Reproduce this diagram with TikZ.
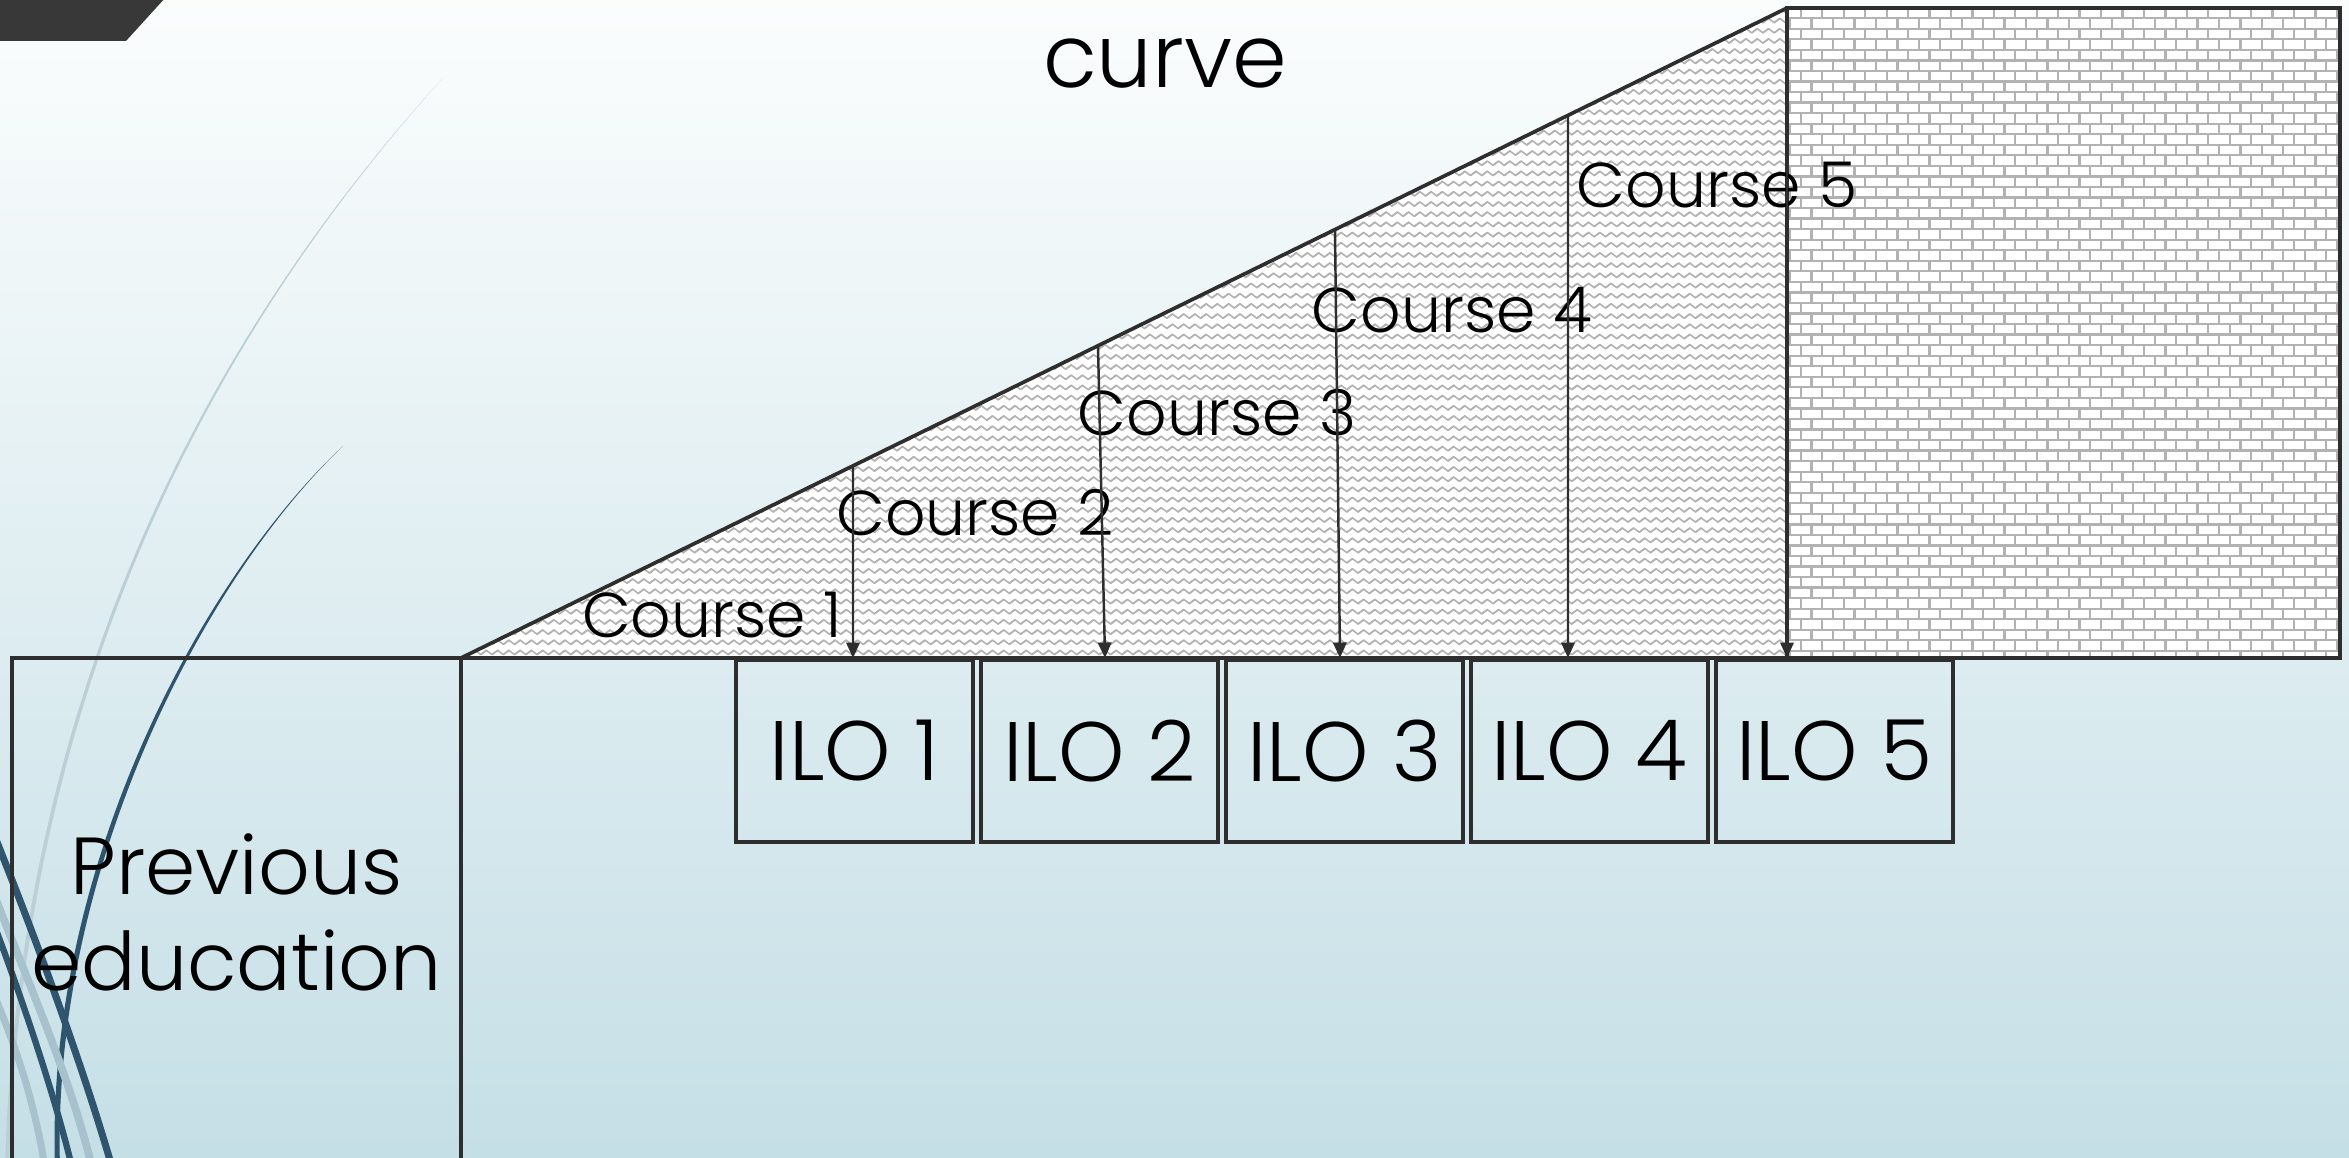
\documentclass[tikz,border=0pt]{standalone}
\usepackage{fontspec}
\setmainfont{Poppins}[UprightFont={* Light}]
\usetikzlibrary{arrows.meta,patterns,calc}

\definecolor{linegray}{HTML}{2E2E2E}
\definecolor{bgtop}{HTML}{FBFDFD}
\definecolor{bgbottom}{HTML}{C5DFE6}
\definecolor{wispdark}{HTML}{2E546E}
\definecolor{wisplight}{HTML}{BCCFD7}
\definecolor{wispmid}{HTML}{A7C2CD}
\definecolor{hatch}{HTML}{B2B2B2}

% wavy hatching of the course triangle
\pgfdeclarepatternformonly{waves}{\pgfqpoint{-1pt}{0pt}}{\pgfqpoint{4.4pt}{2.9pt}}{\pgfqpoint{3.2pt}{2.9pt}}{%
  \pgfsetlinewidth{0.45pt}\pgfsetroundjoin\pgfsetroundcap
  \pgfpathmoveto{\pgfqpoint{-0.8pt}{0.85pt}}
  \pgfpathlineto{\pgfqpoint{0.8pt}{2.05pt}}
  \pgfpathlineto{\pgfqpoint{2.4pt}{0.85pt}}
  \pgfpathlineto{\pgfqpoint{4pt}{2.05pt}}
  \pgfusepath{stroke}}

% brick wall
\pgfdeclarepatternformonly{brickwall}{\pgfqpoint{-0.5pt}{-0.5pt}}{\pgfqpoint{6.6pt}{6.5pt}}{\pgfqpoint{6.1pt}{6pt}}{%
  \pgfsetlinewidth{0.65pt}
  \pgfpathmoveto{\pgfqpoint{-0.5pt}{0pt}}\pgfpathlineto{\pgfqpoint{6.6pt}{0pt}}
  \pgfpathmoveto{\pgfqpoint{-0.5pt}{3pt}}\pgfpathlineto{\pgfqpoint{6.6pt}{3pt}}
  \pgfpathmoveto{\pgfqpoint{0pt}{0pt}}\pgfpathlineto{\pgfqpoint{0pt}{3pt}}
  \pgfpathmoveto{\pgfqpoint{3.05pt}{3pt}}\pgfpathlineto{\pgfqpoint{3.05pt}{6pt}}
  \pgfusepath{stroke}}

\tikzset{
  outline/.style={draw=linegray, line width=1.05pt},
  ilobox/.style={outline, minimum width=2.37cm, minimum height=1.82cm, inner sep=0pt, font=\fontsize{24}{28}\selectfont},
  course/.style={anchor=base, font=\fontsize{18}{22}\selectfont},
  feed/.style={draw=linegray, line width=0.7pt, -{Triangle[length=4.4pt,width=3.8pt]}},
}

\begin{document}
\begin{tikzpicture}
    \useasboundingbox (0,0) rectangle (23.49,11.57);
    \clip (0,0) rectangle (23.49,11.57);
    \shade[top color=bgtop, bottom color=bgbottom] (0,0) rectangle (23.49,11.57);
    \fill[linegray!95!white] (0,11.16) -- (0,11.6) -- (1.66,11.6) -- (1.26,11.16) -- cycle;

    % theme curves
    \fill[wisplight] (4.42,10.78) .. controls (2.50,8.67) and (0.20,5.17) .. (0.05,-0.1)
        -- (0.09,-0.1) .. controls (0.24,5.17) and (2.53,8.68) .. (4.42,10.78);
    \fill[wispdark] (3.43,7.11) .. controls (2.00,5.77) and (0.45,2.87) .. (0.55,-0.1)
        -- (0.60,-0.1) .. controls (0.51,2.87) and (2.04,5.78) .. (3.43,7.11);
    \draw[wispmid, line width=2.2pt] (-0.05,2.6) .. controls (0.3,1.7) and (0.7,0.8) .. (0.92,-0.1);
    \draw[wispmid, line width=2pt] (-0.05,1.6) .. controls (0.2,1.0) and (0.35,0.5) .. (0.45,-0.1);
    \draw[wispdark, line width=2pt] (-0.05,3.2) .. controls (0.35,2.2) and (0.8,1.0) .. (1.12,-0.1);
    \draw[wispdark, line width=1.8pt] (-0.05,2.3) .. controls (0.25,1.5) and (0.55,0.6) .. (0.72,-0.1);

    \node[anchor=base, font=\fontsize{25}{30}\selectfont] (title) at (11.65,10.69) {curve};

    \coordinate (start) at (4.61,4.99);
    \coordinate (apex) at (17.87,11.49);
    \coordinate (corner) at (17.87,4.99);
    \coordinate (wall) at (23.40,11.49);

    % courses and the wall
    \fill[white] (start) -- (apex) -- (corner) -- cycle;
    \fill[pattern=waves, pattern color=hatch] (start) -- (apex) -- (corner) -- cycle;
    \fill[white] (corner) rectangle (wall);
    \fill[pattern=brickwall, pattern color=hatch] (corner) rectangle (wall);
    \draw[outline] (corner) rectangle (wall);
    \draw[outline] (start) -- (apex);
    \draw[outline] (start) -- (corner);

    \node[outline, minimum width=4.49cm, minimum height=5.09cm, inner sep=0pt, align=center,
        font=\fontsize{23}{27.3}\selectfont] (prev) at (2.365,2.445) {Previous\\education};

    \foreach \i in {1,...,5}
        \node[ilobox] (ilo\i) at ({6.095+2.45*\i},4.06) {ILO \i};

    \foreach \i/\x/\y in {1/7.12/5.19, 2/9.75/6.21, 3/12.17/7.21, 4/14.52/8.24, 5/17.17/9.49}
        \node[course] (course\i) at (\x,\y) {Course \i};

    \foreach \i/\a/\b in {1/8.53/8.53, 2/10.98/11.05, 3/13.35/13.40, 4/15.68/15.68} {
        \coordinate (top\i) at ($(start)!{(\a-4.61)/13.26}!(apex)$);
        \coordinate (tip\i) at (\b,4.99);
        \draw[feed] (top\i) -- (tip\i);
    }
    \draw[feed] (apex) -- (corner);
\end{tikzpicture}
\end{document}
